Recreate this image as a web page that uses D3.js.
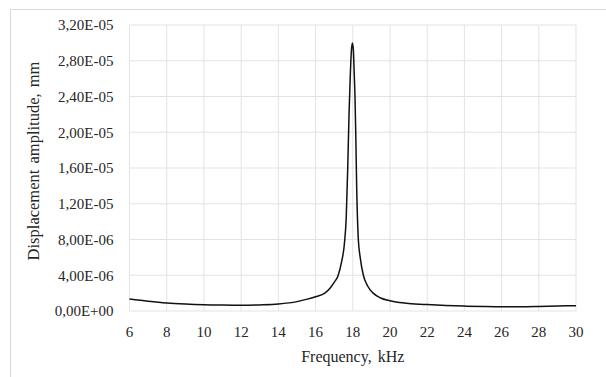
<!DOCTYPE html>
<html>
<head>
<meta charset="utf-8">
<script src="https://cdn.jsdelivr.net/npm/d3@7"></script>
<style>
  body { margin: 0; background: #fff; }
  text { font-family: "Liberation Serif", "Times New Roman", serif; fill: #262626; }
</style>
</head>
<body>
<div id="chart"></div>
<script>
// frequency, kHz
const frequency = [6, 7, 8, 9, 10, 11, 12, 13, 14, 15, 15.5, 16, 16.5, 16.8, 17, 17.2, 17.4, 17.55,
    17.65, 17.73, 17.8, 17.87, 17.93, 17.98, 18.03, 18.08, 18.12, 18.16, 18.21, 18.3, 18.4, 18.57,
    18.8, 19.1, 19.5, 20, 20.5, 21, 22, 23, 24, 25, 26, 27, 28, 29, 30];

// displacement amplitude, mm
const amplitude = [1.35e-6, 1.1e-6, 0.9e-6, 0.78e-6, 0.7e-6, 0.66e-6, 0.64e-6, 0.68e-6, 0.78e-6, 1.05e-6,
    1.3e-6, 1.6e-6, 2.0e-6, 2.6e-6, 3.2e-6, 3.9e-6, 5.5e-6, 7.5e-6,
    10.5e-6, 16e-6, 22e-6, 26.5e-6, 29.2e-6, 30e-6, 29.3e-6, 26.5e-6, 24e-6, 20e-6, 14e-6, 8e-6, 6e-6, 4e-6,
    2.8e-6, 2.0e-6, 1.45e-6, 1.15e-6, 0.95e-6, 0.85e-6, 0.72e-6, 0.62e-6, 0.55e-6, 0.5e-6, 0.47e-6, 0.47e-6,
    0.5e-6, 0.55e-6, 0.6e-6];

const xTicks = [6, 8, 10, 12, 14, 16, 18, 20, 22, 24, 26, 28, 30];
const yTicks = [0, 4e-6, 8e-6, 1.2e-5, 1.6e-5, 2.0e-5, 2.4e-5, 2.8e-5, 3.2e-5];

const xTitle = "Frequency, kHz";
const yTitle = "Displacement amplitude, mm";

// excel-like "3,20E-05"
function sci(v) {
    if (v === 0) return "0,00E+00";
    let e = Math.floor(Math.log10(Math.abs(v)) + 1e-9);
    let m = v / Math.pow(10, e);
    let s = e < 0 ? "-" : "+";
    return m.toFixed(2).replace(".", ",") + "E" + s + String(Math.abs(e)).padStart(2, "0");
}

const W = 606, H = 377;
const margin = {top: 25, right: 30, bottom: 66, left: 129.5};
const width = W - margin.left - margin.right;
const height = H - margin.top - margin.bottom;

const svg = d3.select("#chart").append("svg")
    .attr("width", W)
    .attr("height", H);

// outer chart frame (cropped at right/bottom)
svg.append("path")
    .attr("d", "M10.5,400 V9.5 H610")
    .attr("fill", "none")
    .attr("stroke", "#d9d9d9")
    .attr("stroke-width", 1);

const g = svg.append("g")
    .attr("transform", `translate(${margin.left},${margin.top})`);

const x = d3.scaleLinear().domain([6, 30]).range([0, width]);
const y = d3.scaleLinear().domain([0, 3.2e-5]).range([height, 0]);

// grid
g.append("g").selectAll("line.v")
    .data(xTicks)
    .join("line")
    .attr("x1", d => x(d)).attr("x2", d => x(d))
    .attr("y1", 0).attr("y2", height)
    .attr("stroke", "#e3e3e3").attr("stroke-width", 1);

g.append("g").selectAll("line.h")
    .data(yTicks)
    .join("line")
    .attr("x1", 0).attr("x2", width)
    .attr("y1", d => y(d)).attr("y2", d => y(d))
    .attr("stroke", "#e3e3e3").attr("stroke-width", 1);

// tick labels
g.append("g").selectAll("text")
    .data(xTicks)
    .join("text")
    .attr("x", d => x(d))
    .attr("y", height + 26)
    .attr("text-anchor", "middle")
    .style("font-size", "15px")
    .text(d => d);

g.append("g").selectAll("text")
    .data(yTicks)
    .join("text")
    .attr("x", -16)
    .attr("y", d => y(d))
    .attr("dy", "0.35em")
    .attr("text-anchor", "end")
    .style("font-size", "15px")
    .text(d => sci(d));

// line
const pts = frequency.map((f, i) => [f, amplitude[i]]);
const line = d3.line()
    .x(d => x(d[0]))
    .y(d => y(d[1]))
    .curve(d3.curveMonotoneX);

g.append("path")
    .datum(pts)
    .attr("d", line)
    .attr("fill", "none")
    .attr("stroke", "#111")
    .attr("stroke-width", 1.5);

// axis titles
svg.append("text")
    .attr("x", margin.left + width / 2)
    .attr("y", 362)
    .attr("text-anchor", "middle")
    .style("font-size", "16px")
    .style("word-spacing", "2px")
    .text(xTitle);

svg.append("text")
    .attr("transform", `translate(39,161) rotate(-90)`)
    .attr("text-anchor", "middle")
    .style("font-size", "16.5px")
    .style("word-spacing", "2px")
    .text(yTitle);
</script>
</body>
</html>
